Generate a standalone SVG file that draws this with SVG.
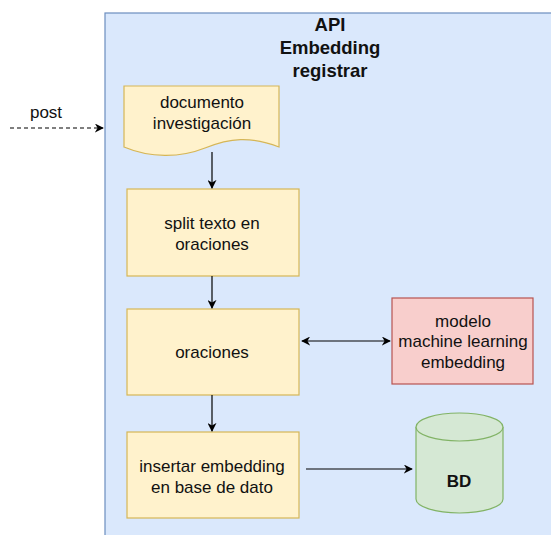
<svg xmlns="http://www.w3.org/2000/svg" width="551" height="535" viewBox="0 0 551 535">
<style>
text{font-family:"Liberation Sans",Arial,sans-serif;font-size:17px;fill:#111;text-anchor:middle}
.b{font-weight:bold}
.t{font-size:18.5px}
.y{fill:#fff2cc;stroke:#d6b656;stroke-width:1.2}
.r{fill:#f8cecc;stroke:#b85450;stroke-width:1.2}
.g{fill:#d5e8d4;stroke:#82b366;stroke-width:1.2}
.c{stroke:#000;stroke-width:1.2;fill:none}
</style>
<defs>
<marker id="ah" viewBox="0 0 10 10" refX="9" refY="5" markerWidth="9" markerHeight="9" orient="auto-start-reverse" markerUnits="userSpaceOnUse">
<path d="M0,0 L10,5 L0,10 L3,5 Z" fill="#000"/>
</marker>
</defs>
<rect width="551" height="535" fill="#fff"/>
<g id="api">
<rect x="105" y="13" width="460" height="540" fill="#dae8fc" stroke="#6c8ebf" stroke-width="1.2"/>
<text class="b t" x="330" y="31">API</text>
<text class="b t" x="330" y="54">Embedding</text>
<text class="b t" x="330" y="77">registrar</text>
</g>
<g id="doc">
<path class="y" d="M124,86 H279 V147 C250,136 230,138 205,148 C180,158 150,158 124,147 Z"/>
<text x="202" y="108">documento</text>
<text x="202" y="129">investigación</text>
</g>
<g id="split">
<rect class="y" x="127" y="189" width="172" height="87"/>
<text x="212" y="229">split texto en</text>
<text x="212" y="250">oraciones</text>
</g>
<g id="oraciones">
<rect class="y" x="127" y="309" width="172" height="86"/>
<text x="212" y="358">oraciones</text>
</g>
<g id="insertar">
<rect class="y" x="127" y="432" width="172" height="86"/>
<text x="212" y="472">insertar embedding</text>
<text x="212" y="493">en base de dato</text>
</g>
<g id="modelo">
<rect class="r" x="392" y="298" width="141" height="86"/>
<text x="463" y="327">modelo</text>
<text x="463" y="347">machine learning</text>
<text x="463" y="368">embedding</text>
</g>
<g id="bd">
<path class="g" d="M416,427 A43.5,14 0 0 1 503,427 V499 A43.5,14 0 0 1 416,499 Z"/>
<path class="g" d="M416,427 A43.5,14 0 0 0 503,427" fill="none"/>
<text class="b" x="459" y="487">BD</text>
</g>
<g id="connectors">
<path class="c" d="M10,128 H103" stroke-dasharray="4,3" marker-end="url(#ah)"/>
<text x="46" y="118">post</text>
<path class="c" d="M212,152 V188" marker-end="url(#ah)"/>
<path class="c" d="M212,276 V308" marker-end="url(#ah)"/>
<path class="c" d="M212,395 V431" marker-end="url(#ah)"/>
<path class="c" d="M302,341 H390" marker-start="url(#ah)" marker-end="url(#ah)"/>
<path class="c" d="M306,469 H412" marker-end="url(#ah)"/>
</g>
</svg>
